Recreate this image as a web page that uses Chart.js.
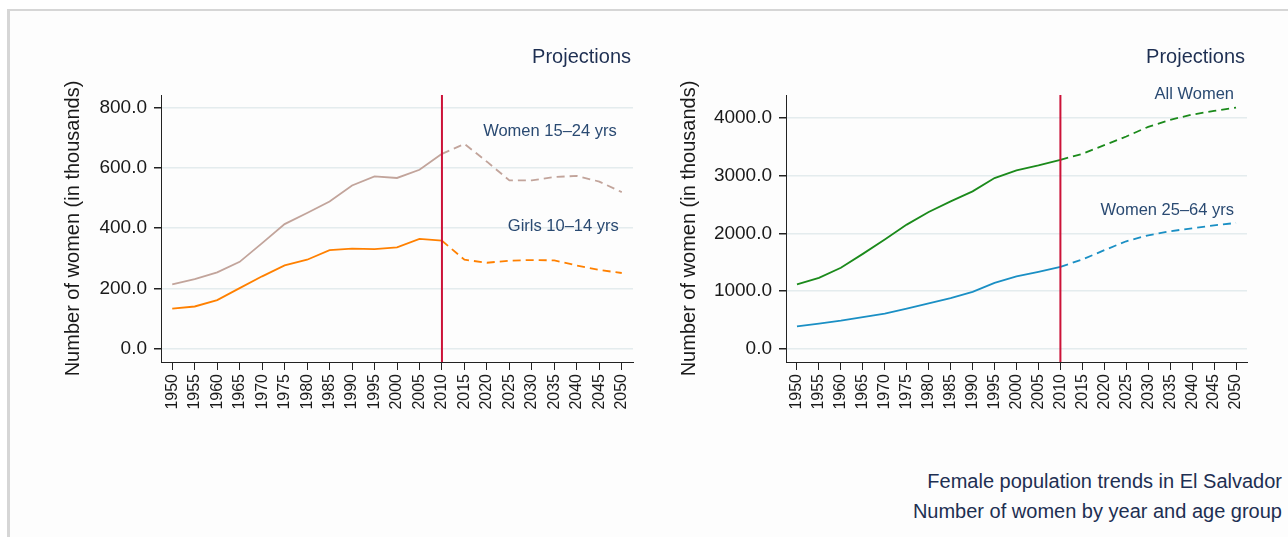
<!DOCTYPE html>
<html><head><meta charset="utf-8">
<script src="https://cdn.jsdelivr.net/npm/chart.js@4.4.1/dist/chart.umd.min.js"></script>
<style>
html,body{margin:0;padding:0;background:#fff;width:1288px;height:537px;overflow:hidden;font-family:"Liberation Sans",Arial,sans-serif;}
#frame{position:absolute;left:7px;top:9px;width:1290px;height:540px;border-left:3px solid #d6d6d6;border-top:2px solid #d6d6d6;background:#fdfdfd;}
#c1{position:absolute;left:57px;top:0;width:600px;height:420px;}
#c2{position:absolute;left:673px;top:0;width:615px;height:420px;}
.note{position:absolute;right:6px;font-size:20px;line-height:25px;color:#1e2f52;white-space:nowrap;}
</style></head>
<body>
<div id="frame"></div>
<canvas id="c1" width="600" height="420"></canvas>
<canvas id="c2" width="615" height="420"></canvas>
<div class="note" style="top:469px">Female population trends in El Salvador</div>
<div class="note" style="top:499px">Number of women by year and age group</div>
<script>
const years = ['1950','1955','1960','1965','1970','1975','1980','1985','1990','1995','2000','2005','2010','2015','2020','2025','2030','2035','2040','2045','2050'];
const projectionStart = '2010';
const women15_24 = [213,231,253,288,350,413,450,488,541,571,566,593,646,679,620,558,558,569,573,554,519];
const girls10_14 = [133,140,161,201,240,276,295,327,332,330,336,364,358,295,285,292,294,293,276,261,251];
const allWomen   = [1114,1229,1403,1645,1893,2153,2372,2557,2730,2961,3094,3180,3278,3382,3532,3683,3850,3971,4063,4127,4185];
const women25_64 = [387,433,485,548,606,693,785,877,987,1143,1253,1333,1420,1547,1709,1864,1968,2038,2089,2141,2182];
const leftYTicks  = [0,200,400,600,800];
const rightYTicks = [0,1000,2000,3000,4000];

const FONT = '"Liberation Sans", Arial, sans-serif';
const splitIdx = years.indexOf(projectionStart);

const overlay = {
  id: 'overlay',
  afterDatasetsDraw(chart, args, opts) {
    const {ctx, chartArea, scales: {x, y}} = chart;
    ctx.save();
    // projection divider
    const px = x.getPixelForValue(years.indexOf(opts.split));
    ctx.strokeStyle = '#cc1238';
    ctx.lineWidth = 2;
    ctx.beginPath();
    ctx.moveTo(px, chartArea.top);
    ctx.lineTo(px, chartArea.bottom);
    ctx.stroke();
    // "Projections"
    ctx.fillStyle = '#1e2f52';
    ctx.font = '20px ' + FONT;
    ctx.textAlign = 'right';
    ctx.textBaseline = 'middle';
    ctx.fillText('Projections', chartArea.right - 2, chartArea.top - 38);
    // series labels
    ctx.font = '16.5px ' + FONT;
    ctx.fillStyle = '#2a4a72';
    for (const l of opts.labels) {
      const lx = x.getPixelForValue(years.indexOf(l.at)) - l.dx;
      const ly = y.getPixelForValue(l.value);
      ctx.fillText(l.text, lx, ly);
    }
    ctx.restore();
  }
};

function makeChart(id, datasets, yTicks, yMin, yMax, yWidth, padRight, labels) {
  return new Chart(document.getElementById(id), {
    type: 'line',
    data: {
      labels: years,
      datasets: datasets.map(d => ({
        label: d.label,
        data: d.data,
        borderColor: d.color,
        borderWidth: 1.8,
        pointRadius: 0,
        tension: 0,
        fill: false,
        segment: { borderDash: c => c.p0DataIndex >= splitIdx ? [8, 5] : undefined }
      }))
    },
    options: {
      responsive: false,
      animation: false,
      devicePixelRatio: 1,
      layout: { padding: { top: 95, right: padRight, bottom: 0, left: 0 } },
      plugins: {
        legend: { display: false },
        tooltip: { enabled: false },
        overlay: { split: projectionStart, labels: labels }
      },
      scales: {
        x: {
          type: 'category',
          offset: true,
          grid: { display: true, drawOnChartArea: false, drawTicks: true, tickLength: 8, color: '#222' },
          border: { display: true, color: '#222', width: 1 },
          ticks: { autoSkip: false, minRotation: 90, maxRotation: 90, padding: 4, color: '#1a1a1a', font: { family: FONT, size: 16 } },
          afterFit: s => { s.height = 58; }
        },
        y: {
          min: yMin, max: yMax,
          afterBuildTicks: s => { s.ticks = yTicks.map(v => ({ value: v })); },
          grid: { color: '#e4ecee', lineWidth: 1.5, tickColor: '#222', tickLength: 7, drawTicks: true },
          border: { display: true, color: '#222', width: 1 },
          ticks: { padding: 7, color: '#1a1a1a', font: { family: FONT, size: 19 }, callback: v => Number(v).toFixed(1) },
          title: { display: true, text: 'Number of women (in thousands)', color: '#1a1a1a', font: { family: FONT, size: 20 }, padding: { top: 4, bottom: 4 } },
          afterFit: s => { s.width = yWidth; }
        }
      }
    },
    plugins: [overlay]
  });
}

makeChart('c1', [
  { label: 'Women 15–24 yrs', data: women15_24, color: '#c2a49b' },
  { label: 'Girls 10–14 yrs', data: girls10_14, color: '#ff8000' }
], leftYTicks, -44, 841, 104, 24, [
  { text: 'Women 15–24 yrs', at: '2050', dx: 5, value: 720 },
  { text: 'Girls 10–14 yrs', at: '2050', dx: 3, value: 405 }
]);

makeChart('c2', [
  { label: 'All Women', data: allWomen, color: '#1b8a1b' },
  { label: 'Women 25–64 yrs', data: women25_64, color: '#1a8fc4' }
], rightYTicks, -232, 4403, 113, 41, [
  { text: 'All Women', at: '2050', dx: 2, value: 4404 },
  { text: 'Women 25–64 yrs', at: '2050', dx: 2, value: 2401 }
]);
</script>
</body></html>
